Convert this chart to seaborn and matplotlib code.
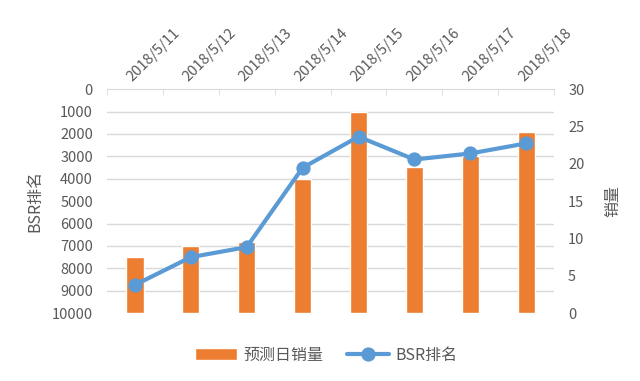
import numpy as np
import pandas as pd
import matplotlib
matplotlib.use("Agg")
import matplotlib.pyplot as plt
import seaborn as sns

dates = ["2018/5/11", "2018/5/12", "2018/5/13", "2018/5/14",
         "2018/5/15", "2018/5/16", "2018/5/17", "2018/5/18"]
sales = [7.5, 9.0, 9.5, 18.0, 26.9, 19.6, 21.1, 24.3]
bsr = [8740, 7500, 7050, 3510, 2120, 3140, 2870, 2420]

sales_max = 30
bsr_max = 10000

sns.set_style("white")
plt.rcParams['font.family'] = ['Noto Sans CJK SC', 'DejaVu Sans']

df = pd.DataFrame({"date": dates, "sales": sales, "bsr": bsr})

orange = "#ED7D31"
blue = "#5B9BD5"
grey = "#D9D9D9"
txt = "#595959"

fig = plt.figure(figsize=(6.4, 3.81), dpi=100)
ax = fig.add_axes([0.167, 0.178, 0.699, 0.588])
ax2 = ax.twinx()

# bars: sales on the right-hand axis
sns.barplot(data=df, x="date", y="sales", order=dates, color=orange,
            width=0.31, saturation=1, ax=ax, label="预测日销量")
# line: BSR rank on the left-hand (inverted) axis
sns.pointplot(data=df, x="date", y="bsr", order=dates, color=blue,
              markers="o", ax=ax2, label="BSR排名",
              linewidth=3, markersize=8)

for a in (ax, ax2):
    if a.get_legend() is not None:
        a.get_legend().remove()
    a.set_xlim(-0.5, len(dates) - 0.5)
    for s in a.spines.values():
        s.set_visible(False)
    a.set_xlabel("")

ax.set_ylim(0, sales_max)
ax.set_yticks(np.arange(0, sales_max + 1, 5))
ax.set_yticks(np.arange(0, sales_max + 0.01, sales_max / 10), minor=True)
ax.grid(which="minor", axis="y", color=grey, linewidth=1)
ax.grid(which="major", axis="y", visible=False)
ax.set_axisbelow(True)
ax.yaxis.tick_right()
ax.yaxis.set_label_position("right")
ax.tick_params(axis="y", which="both", length=0, labelsize=10.5,
               labelcolor=txt, pad=10)
ax.set_ylabel("销量", fontsize=11.5, color=txt, labelpad=14)

ax2.set_ylim(bsr_max, 0)
ax2.set_yticks(np.arange(0, bsr_max + 1, 1000))
ax2.yaxis.tick_left()
ax2.yaxis.set_label_position("left")
ax2.tick_params(axis="y", length=0, labelsize=10.5, labelcolor=txt, pad=10)
ax2.set_ylabel("BSR排名", fontsize=11.5, color=txt, labelpad=6)
ax2.grid(False)

# category axis along the top
ax.spines["top"].set_visible(True)
ax.spines["top"].set_color(grey)
ax.xaxis.tick_top()
ax.set_xticks(range(len(dates)))
ax.set_xticklabels(dates, rotation=45, ha="left", rotation_mode="anchor")
ax.set_xticks(np.arange(-0.5, len(dates), 1), minor=True)
ax.tick_params(axis="x", which="major", length=0, labelsize=10.5,
               labelcolor=txt, pad=4)
ax.tick_params(axis="x", which="minor", top=True, bottom=False,
               direction="in", length=4, color=grey)

h1, l1 = ax.get_legend_handles_labels()
h2, l2 = ax2.get_legend_handles_labels()
fig.legend(h1 + h2, l1 + l2, loc="center", bbox_to_anchor=(0.51, 0.068),
           ncol=2, frameon=False, fontsize=11.5, labelcolor=txt,
           handlelength=2.6, columnspacing=1.5, handletextpad=0.4)

fig.savefig("out.png", dpi=100)
